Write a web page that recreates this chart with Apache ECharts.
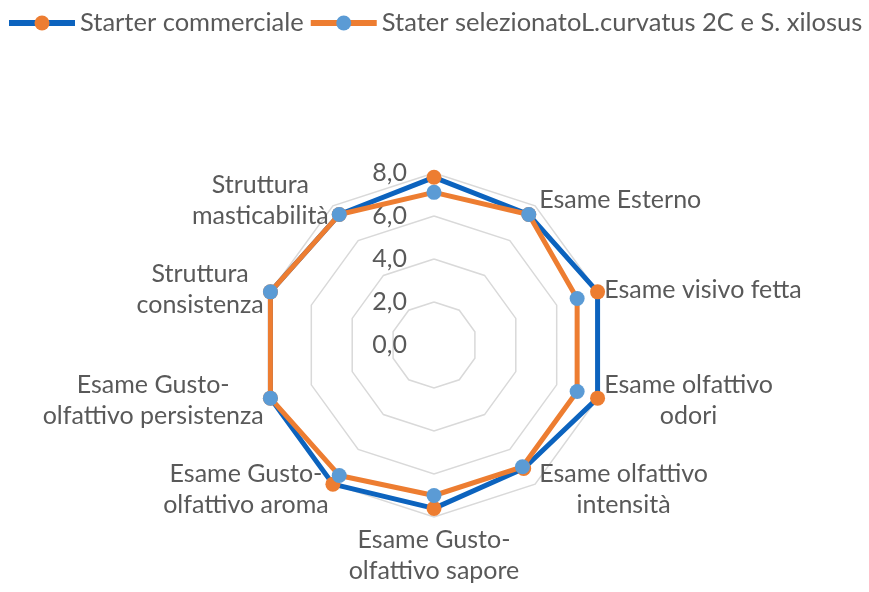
<!DOCTYPE html>
<html>
<head>
<meta charset="utf-8">
<script src="https://cdn.jsdelivr.net/npm/echarts@6/dist/echarts.min.js"></script>
<style>
html,body{margin:0;padding:0;background:#fff;}
#chart{width:869px;height:592px;}
</style>
</head>
<body>
<div id="chart"></div>
<script>
// Categories in clockwise order starting at the top
var categories = ['', 'Esame Esterno', 'Esame visivo fetta', 'Esame olfattivo\nodori', 'Esame olfattivo\nintensità', 'Esame Gusto-\nolfattivo sapore', 'Esame Gusto-\nolfattivo aroma', 'Esame Gusto-\nolfattivo persistenza', 'Struttura\nconsistenza', 'Struttura\nmasticabilità'];
var seriesNames = ['Starter commerciale', 'Stater selezionatoL.curvatus 2C e S. xilosus'];
var starterCommerciale = [7.8, 7.5, 8.0, 8.0, 7.1, 7.6, 8.0, 8.0, 8.0, 7.5];
var starterSelezionato = [7.1, 7.5, 7.0, 7.0, 7.0, 7.0, 7.5, 8.0, 8.0, 7.5];
var axisMin = 0, axisMax = 8, axisSplits = 4;

var FONT = 'Lato';
var TXT = '#595959';
var BLUE = '#0C63BE';
var ORANGE = '#ED7D31';
var LBLUE = '#5B9BD5';

// ECharts radar runs counter-clockwise; reorder to draw clockwise
var order = [0];
for (var i = categories.length - 1; i >= 1; i--) order.push(i);
function reorder(arr){ return order.map(function(k){ return arr[k]; }); }

var indicators = reorder(categories).map(function(n, i){
  var ind = {name: n, min: axisMin, max: axisMax};
  if (i !== 0) ind.axisLabel = {show: false};
  return ind;
});

var chart = echarts.init(document.getElementById('chart'));
var LFS = 25.5;
chart.setOption({
  animation: false,
  legend: [{
    left: 4, top: 5, itemWidth: 66, itemHeight: 6, itemGap: 7, icon: 'rect',
    textStyle: {fontFamily: FONT, fontSize: LFS, color: TXT},
    data: [
      {name: seriesNames[0], itemStyle: {color: BLUE}},
      {name: seriesNames[1], itemStyle: {color: ORANGE}}
    ]
  }, {
    left: 29.5, top: 5, itemWidth: 15, itemHeight: 15, itemGap: 58, icon: 'circle',
    textStyle: {fontFamily: FONT, fontSize: LFS, color: 'rgba(0,0,0,0)'},
    data: [
      {name: seriesNames[0], itemStyle: {color: ORANGE}},
      {name: seriesNames[1], itemStyle: {color: LBLUE}}
    ]
  }],
  radar: {
    center: [434, 345],
    radius: 172,
    startAngle: 90,
    shape: 'polygon',
    splitNumber: axisSplits,
    indicator: indicators,
    nameGap: 7,
    axisName: {
      color: TXT,
      fontFamily: FONT,
      fontSize: 25,
      formatter: function(name){
        if (!name) return '';
        return name.split('\n').map(function(l){ return '{c|' + l + '}'; }).join('\n');
      },
      rich: {c: {align: 'center', color: TXT, fontFamily: FONT, fontSize: 25, lineHeight: 31}}
    },
    axisLine: {show: false},
    axisTick: {show: false},
    splitArea: {show: false},
    splitLine: {lineStyle: {color: '#D9D9D9', width: 1.5}},
    axisLabel: {
      show: true, color: TXT, fontFamily: FONT, fontSize: 25, margin: 27,
      showMinLabel: true,
      formatter: function(v){ return v.toFixed(1).replace('.', ','); }
    }
  },
  series: [{
    type: 'radar',
    symbol: 'circle',
    symbolSize: 15,
    emphasis: {disabled: true},
    data: [
      {name: seriesNames[0], value: reorder(starterCommerciale),
       lineStyle: {color: BLUE, width: 5}, itemStyle: {color: ORANGE}},
      {name: seriesNames[1], value: reorder(starterSelezionato),
       lineStyle: {color: ORANGE, width: 5}, itemStyle: {color: LBLUE}}
    ]
  }]
});
</script>
</body>
</html>
